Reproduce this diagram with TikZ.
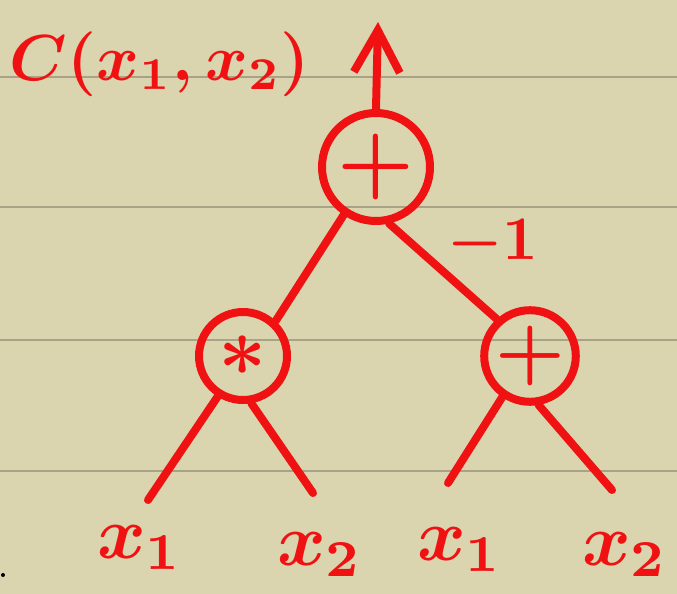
\documentclass[tikz,border=0pt]{standalone}
\usepackage{graphicx}
\usepackage{amsmath}
\usetikzlibrary{arrows.meta}
\definecolor{paper}{RGB}{218,212,175}
\definecolor{rulecol}{RGB}{168,162,136}
\definecolor{ink}{RGB}{240,18,18}
\tikzset{
  opnode/.style={circle,draw=ink,line width=8pt,inner sep=0pt,text=ink},
  wire/.style={draw=ink,line width=8pt,line cap=round},
  lab/.style={text=ink,inner sep=0pt}}
\begin{document}
\begin{tikzpicture}[x=1pt,y=-1pt]
\fill[paper] (0,0) rectangle (677,594);
\useasboundingbox (0,0) rectangle (677,594);
\foreach \yy in {77,207,340,471} {\draw[rulecol,line width=2.5pt] (0,\yy) -- (677,\yy);}
\fill[black] (3,575) circle [radius=2];
% nodes
\node[opnode,minimum size=108pt] (root) at (376,167) {\scalebox{8.6}{$\boldsymbol{+}$}};
\node[opnode,minimum size=88pt] (mul) at (243,356) {\scalebox{8.4}{$\boldsymbol{\ast}$}};
\node[opnode,minimum size=88pt] (add) at (530,356) {\scalebox{7.8}{$\boldsymbol{+}$}};
% labels
\node[lab] (out) at (160,64) {\scalebox{6.5}{$\boldsymbol{C(x_1,x_2)}$}};
\node[lab] (w) at (493,244) {\scalebox{6.2}{$\boldsymbol{-1}$}};
\node[lab] (a1) at (140,548) {\scalebox{7.4}{$\boldsymbol{x_1}$}};
\node[lab] (a2) at (320,555) {\scalebox{7.4}{$\boldsymbol{x_2}$}};
\node[lab] (b1) at (460,550) {\scalebox{7.4}{$\boldsymbol{x_1}$}};
\node[lab] (b2) at (625,555) {\scalebox{7.4}{$\boldsymbol{x_2}$}};
% free ends
\coordinate (top) at (378,22);
\coordinate (ea1) at (148,500);
\coordinate (ea2) at (313,493);
\coordinate (eb1) at (448,483);
\coordinate (eb2) at (612,490);
% connectors
\draw[wire,line join=round,-{Straight Barb[length=42pt,width=46pt]}] (root.north) -- (top);
\draw[wire] (root.-124) -- (mul.47);
\draw[wire] (root.-77) -- (add.132);
\draw[wire] (mul.-122) -- (ea1);
\draw[wire] (mul.-80) -- (ea2);
\draw[wire] (add.-124) -- (eb1);
\draw[wire] (add.-80) -- (eb2);
\end{tikzpicture}
\end{document}
